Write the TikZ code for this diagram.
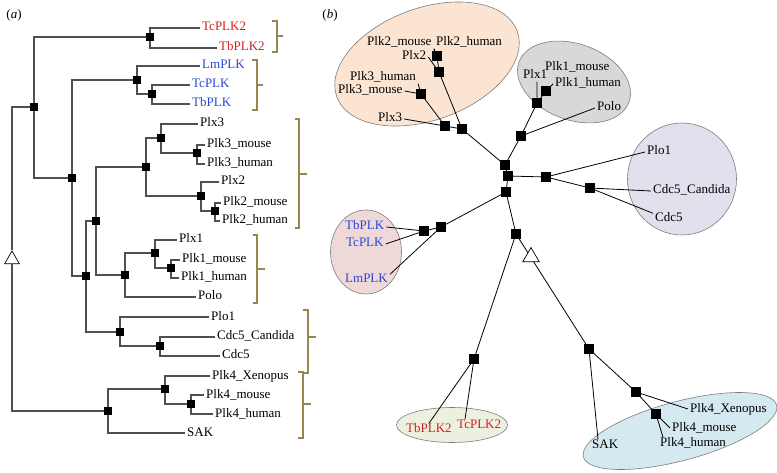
\documentclass[tikz,border=0pt]{standalone}
\usepackage{fontspec}
\setmainfont{Liberation Serif}
\usepackage{xcolor}
\usepackage{tikz}
\usetikzlibrary{shapes.geometric, backgrounds}
\definecolor{linegray}{RGB}{80, 80, 80}
\definecolor{bracketcolor}{RGB}{150, 135, 80}
\definecolor{plkred}{RGB}{215, 30, 30}
\definecolor{plkblue}{RGB}{40, 70, 215}
\definecolor{orangegroup}{RGB}{251, 228, 210}
\definecolor{graygroup}{RGB}{216, 216, 216}
\definecolor{purplegroup}{RGB}{228, 223, 237}
\definecolor{pinkgroup}{RGB}{238, 216, 216}
\definecolor{greengroup}{RGB}{236, 240, 222}
\definecolor{bluegroup}{RGB}{213, 233, 241}
\definecolor{groupborder}{RGB}{125, 125, 125}

\begin{document}
\begin{tikzpicture}[x=1pt, y=-1pt,
        junc/.style={fill=black, minimum size=8.5pt, inner sep=0pt},
        rjunc/.style={fill=black, minimum size=9.5pt, inner sep=0pt},
        taxon/.style={anchor=west, inner xsep=2pt, inner ysep=0pt, text height=8.5pt, text depth=2.5pt, font=\fontsize{13}{15}\selectfont},
        treeline/.style={line width=1.4pt, linegray},
        uline/.style={line width=0.8pt, black},
        bracket/.style={line width=1.1pt, bracketcolor},
        grp/.style={ellipse, draw=groupborder, line width=0.6pt, inner sep=0pt},
        tri/.style={regular polygon, regular polygon sides=3, draw, fill=white, minimum size=17pt, inner sep=0pt, line width=0.7pt}]
        \useasboundingbox (0,0) rectangle (777,473);

        % Panel labels
        \node[font=\fontsize{13}{15}\selectfont] (labela) at (14,15) {(\textit{a})};
        \node[font=\fontsize{13}{15}\selectfont] (labelb) at (330,15) {(\textit{b})};

        % (a) junctions
        \node[tri] (tri1) at (12,259.5) {};
        \node[junc] (a0) at (34,107) {};
        \node[junc] (a1) at (150,37) {};
        \node[junc] (a2) at (72,178) {};
        \node[junc] (a3) at (137,80) {};
        \node[junc] (a4) at (152,94) {};
        \node[junc] (a5) at (86,276) {};
        \node[junc] (a6) at (96,221) {};
        \node[junc] (a7) at (146,167) {};
        \node[junc] (a8) at (161,138) {};
        \node[junc] (a8b) at (197,153) {};
        \node[junc] (a9) at (201,196) {};
        \node[junc] (a9b) at (215,211) {};
        \node[junc] (a10) at (125,275) {};
        \node[junc] (a11) at (155,253) {};
        \node[junc] (a11b) at (171,268) {};
        \node[junc] (a12) at (120,332) {};
        \node[junc] (a13) at (160,346) {};
        \node[junc] (a14) at (108,411) {};
        \node[junc] (a15) at (165,389) {};
        \node[junc] (a16) at (191,404) {};

        % (a) taxa
        \node[taxon, text=plkred] (tcplk2a) at (200,28) {TcPLK2};
        \node[taxon, text=plkred] (tbplk2a) at (217,48) {TbPLK2};
        \node[taxon, text=plkblue] (lmplka) at (200,66) {LmPLK};
        \node[taxon, text=plkblue] (tcplka) at (190,85) {TcPLK};
        \node[taxon, text=plkblue] (tbplka) at (190,104) {TbPLK};
        \node[taxon] (plx3a) at (198,124) {Plx3};
        \node[taxon] (plk3ma) at (205,145) {Plk3\_mouse};
        \node[taxon] (plk3ha) at (205,164) {Plk3\_human};
        \node[taxon] (plx2a) at (219,182) {Plx2};
        \node[taxon] (plk2ma) at (221,203) {Plk2\_mouse};
        \node[taxon] (plk2ha) at (220,221) {Plk2\_human};
        \node[taxon] (plx1a) at (177,240) {Plx1};
        \node[taxon] (plk1ma) at (180,260) {Plk1\_mouse};
        \node[taxon] (plk1ha) at (179,278) {Plk1\_human};
        \node[taxon] (poloa) at (196,297) {Polo};
        \node[taxon] (plo1a) at (209,317) {Plo1};
        \node[taxon] (cdc5ca) at (215,337) {Cdc5\_Candida};
        \node[taxon] (cdc5a) at (220,356) {Cdc5};
        \node[taxon] (plk4xa) at (210,376) {Plk4\_Xenopus};
        \node[taxon] (plk4ma) at (204,395) {Plk4\_mouse};
        \node[taxon] (plk4ha) at (213,414) {Plk4\_human};
        \node[taxon] (saka) at (185,433) {SAK};

        % (a) brackets
        \draw[bracket] (272,21) -- (277,21) -- (277,52) -- (272,52) (277,36) -- (283,36);
        \draw[bracket] (252,60) -- (257,60) -- (257,110) -- (252,110) (257,85) -- (263,85);
        \draw[bracket] (295,119) -- (299,119) -- (299,228) -- (295,228) (299,174) -- (307,174);
        \draw[bracket] (253,235) -- (257,235) -- (257,303) -- (253,303) (257,269) -- (265,269);
        \draw[bracket] (303,310) -- (308,310) -- (308,373) -- (303,373) (308,337) -- (316,337);
        \draw[bracket] (298,372) -- (303,372) -- (303,438) -- (298,438) (303,404) -- (311,404);

        % (b) junctions
        \node[rjunc] (b1) at (505,165) {};
        \node[rjunc] (b2) at (508,176) {};
        \node[rjunc] (b3) at (506,192) {};
        \node[rjunc] (b4) at (462,129) {};
        \node[rjunc] (b5) at (521,136) {};
        \node[rjunc] (b6) at (546,177) {};
        \node[rjunc] (b7) at (441,227) {};
        \node[rjunc] (b8) at (516,234) {};
        \node[rjunc] (b9) at (439,72) {};
        \node[rjunc] (b10) at (445,126) {};
        \node[rjunc] (b11) at (421,94) {};
        \node[rjunc] (b12) at (437,56) {};
        \node[rjunc] (b13) at (537,103) {};
        \node[rjunc] (b14) at (546,91) {};
        \node[rjunc] (b15) at (590,188) {};
        \node[rjunc] (b16) at (424,231) {};
        \node[rjunc] (b17) at (474,359) {};
        \node[rjunc] (b18) at (589,349) {};
        \node[rjunc] (b19) at (636,392) {};
        \node[rjunc] (b20) at (656,414) {};
        \node[tri, minimum size=19pt] (tri2) at (531,257) {};

        % (b) taxa
        \node[taxon] (plk2mb) at (365,43) {Plk2\_mouse};
        \node[taxon] (plk2hb) at (434,43) {Plk2\_human};
        \node[taxon] (plx2b) at (400,57) {Plx2};
        \node[taxon] (plk3hb) at (348,78) {Plk3\_human};
        \node[taxon] (plk3mb) at (336,91) {Plk3\_mouse};
        \node[taxon] (plx3b) at (376,119) {Plx3};
        \node[taxon] (plk1mb) at (543,68) {Plk1\_mouse};
        \node[taxon] (plx1b) at (521,76) {Plx1};
        \node[taxon] (plk1hb) at (553,84) {Plk1\_human};
        \node[taxon] (polob) at (595,108) {Polo};
        \node[taxon] (plo1b) at (645,152) {Plo1};
        \node[taxon] (cdc5cb) at (651,191) {Cdc5\_Candida};
        \node[taxon] (cdc5b) at (653,219) {Cdc5};
        \node[taxon, text=plkblue] (tbplkb) at (343,227) {TbPLK};
        \node[taxon, text=plkblue] (tcplkb) at (344,244) {TcPLK};
        \node[taxon, text=plkblue] (lmplkb) at (343,280) {LmPLK};
        \node[taxon, text=plkred] (tbplk2b) at (404,429) {TbPLK2};
        \node[taxon, text=plkred] (tcplk2b) at (455,425) {TcPLK2};
        \node[taxon] (plk4xb) at (688,409) {Plk4\_Xenopus};
        \node[taxon] (plk4mb) at (670,428) {Plk4\_mouse};
        \node[taxon] (plk4hb) at (658,443) {Plk4\_human};
        \node[taxon] (sakb) at (590,445) {SAK};

        \begin{scope}[on background layer]
            % Groups
            \node[grp, fill=orangegroup, minimum width=192pt, minimum height=112pt, rotate=20] (grp23) at (427,64) {};
            \node[grp, fill=graygroup, minimum width=117pt, minimum height=76pt, rotate=-20] (grp1) at (574,82) {};
            \node[grp, fill=purplegroup, minimum width=109pt, minimum height=112pt] (grpcdc) at (682,179) {};
            \node[grp, fill=pinkgroup, minimum width=71pt, minimum height=84pt] (grptryp) at (366,252) {};
            \node[grp, fill=greengroup, minimum width=111pt, minimum height=35pt] (grptryp2) at (452,425) {};
            \node[grp, fill=bluegroup, minimum width=200pt, minimum height=59pt, rotate=15] (grp4) at (680,431) {};

            % (a) branches
            \draw[treeline] (tri1) |- (a0) (tri1) |- (a14);
            \draw[treeline] (a0) |- (a1) (a0) |- (a2);
            \draw[treeline] (a1) |- (tcplk2a) (a1) |- (tbplk2a);
            \draw[treeline] (a2) |- (a3) (a2) |- (a5);
            \draw[treeline] (a3) |- (lmplka) (a3) |- (a4);
            \draw[treeline] (a4) |- (tcplka) (a4) |- (tbplka);
            \draw[treeline] (a5) |- (a6) (a5) |- (a12);
            \draw[treeline] (a6) |- (a7) (a6) |- (a10);
            \draw[treeline] (a7) |- (a8) (a7) |- (a9);
            \draw[treeline] (a8) |- (plx3a) (a8) |- (a8b);
            \draw[treeline] (a8b) |- (plk3ma) (a8b) |- (plk3ha);
            \draw[treeline] (a9) |- (plx2a) (a9) |- (a9b);
            \draw[treeline] (a9b) |- (plk2ma) (a9b) |- (plk2ha);
            \draw[treeline] (a10) |- (a11) (a10) |- (poloa);
            \draw[treeline] (a11) |- (plx1a) (a11) |- (a11b);
            \draw[treeline] (a11b) |- (plk1ma) (a11b) |- (plk1ha);
            \draw[treeline] (a12) |- (plo1a) (a12) |- (a13);
            \draw[treeline] (a13) |- (cdc5ca) (a13) |- (cdc5a);
            \draw[treeline] (a14) |- (a15) (a14) |- (saka);
            \draw[treeline] (a15) |- (plk4xa) (a15) |- (a16);
            \draw[treeline] (a16) |- (plk4ma) (a16) |- (plk4ha);

            % (b) branches
            \draw[uline] (b1) -- (b4) (b1) -- (b5) (b1) -- (b2);
            \draw[uline] (b2) -- (b6) (b2) -- (b3);
            \draw[uline] (b3) -- (b7) (b3) -- (b8);
            \draw[uline] (b4) -- (b9) (b4) -- (b10);
            \draw[uline] (b9) -- (b12) (b9) -- (plx2b.east);
            \draw[uline] (b10) -- (b11) (b10) -- (plx3b.east);
            \draw[uline] (b11) -- (plk3mb.east) (b11) -- (plk3hb.south east);
            \draw[uline] (b12) -- (plk2mb.south east) (b12) -- (plk2hb.south west);
            \draw[uline] (b5) -- (b13) (b5) -- (polob.west);
            \draw[uline] (b13) -- (b14) (b13) -- (b13 |- plx1b.south);
            \draw[uline] (b14) -- (plk1hb.west);
            \draw[uline] (b6) -- (plo1b.west) (b6) -- (b15);
            \draw[uline] (b15) -- (cdc5cb.west) (b15) -- (cdc5b.north west);
            \draw[uline] (b7) -- (b16) (b7) -- (lmplkb.north east);
            \draw[uline] (b16) -- (tbplkb.east) (b16) -- (tcplkb.east);
            \draw[uline] (b8) -- (b17) (b8) -- (b18);
            \draw[uline] (b17) -- (tbplk2b.north) (b17) -- ([xshift=10pt]tcplk2b.north west);
            \draw[uline] (b18) -- ([xshift=8pt]sakb.north west) (b18) -- (b19);
            \draw[uline] (b19) -- (plk4xb.west) (b19) -- (b20);
            \draw[uline] (b20) -- (plk4mb.west) (b20) -- ([xshift=5pt]plk4hb.north west);
        \end{scope}
    \end{tikzpicture}
\end{document}
